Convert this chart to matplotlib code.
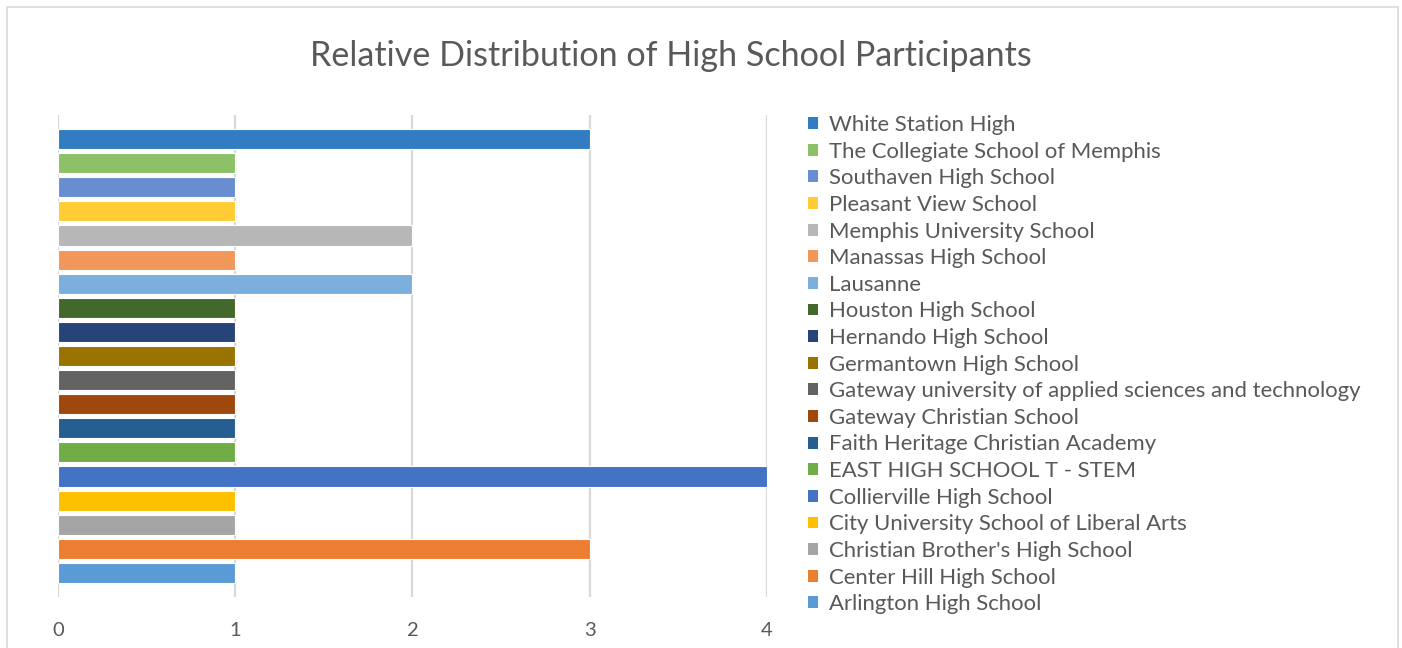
import matplotlib

matplotlib.use("Agg")
import matplotlib.pyplot as plt
from matplotlib.patches import Patch, Rectangle

plt.rcParams["font.family"] = ["Lato", "DejaVu Sans"]

# bottom to top, as in the chart
schools = [
    "Arlington High School",
    "Center Hill High School",
    "Christian Brother's High School",
    "City University School of Liberal Arts",
    "Collierville High School",
    "EAST HIGH SCHOOL T - STEM",
    "Faith Heritage Christian Academy",
    "Gateway Christian School",
    "Gateway university of applied sciences and technology",
    "Germantown High School",
    "Hernando High School",
    "Houston High School",
    "Lausanne",
    "Manassas High School",
    "Memphis University School",
    "Pleasant View School",
    "Southaven High School",
    "The Collegiate School of Memphis",
    "White Station High",
]
participants = [1, 3, 1, 1, 4, 1, 1, 1, 1, 1, 1, 1, 2, 1, 2, 1, 1, 1, 3]
colors = [
    "#5B9BD5", "#ED7D31", "#A5A5A5", "#FFC000", "#4472C4", "#70AD47",
    "#255E91", "#9E480E", "#636363", "#997300", "#264478", "#43682B",
    "#7CAFDD", "#F1975A", "#B7B7B7", "#FFCD33", "#698ED0", "#8CC168",
    "#327DC2",
]
x_ticks = [0, 1, 2, 3, 4]

W, H = 1402, 648
fig = plt.figure(figsize=(W / 100, H / 100), dpi=100)

# chart border
fig.patches.append(Rectangle((7 / W, -0.02), (1398 - 7) / W, (H - 7) / H + 0.02,
                             transform=fig.transFigure, fill=False,
                             edgecolor="#D9D9D9", linewidth=1.2))

ax = fig.add_axes([58 / W, (H - 597) / H, (767 - 58) / W, (597 - 115) / H])
for i, (name, val, col) in enumerate(zip(schools, participants, colors)):
    ax.barh(i, val, height=0.83, color=col, edgecolor="white", linewidth=0.8,
            label=name, zorder=3)

ax.set_xlim(0, 4)
ax.set_ylim(-1, len(schools))
ax.set_xticks(x_ticks)
ax.set_yticks([])
ax.grid(axis="x", color="#D9D9D9", linewidth=1.6, zorder=0)
for s in ax.spines.values():
    s.set_visible(False)
ax.tick_params(axis="x", length=0, pad=18, labelsize=14.5, labelcolor="#595959")

fig.text(0.5 * (310 + 1032) / W, (H - 56) / H,
         "Relative Distribution of High School Participants",
         ha="center", va="center", fontsize=24.6, color="#595959")

handles = [Patch(facecolor=c, edgecolor="none") for c in colors][::-1]
leg = fig.legend(handles, schools[::-1], loc="upper left",
                 bbox_to_anchor=(808 / W, (H - 115) / H), frameon=False,
                 fontsize=15.9, handlelength=0.45, handleheight=0.45,
                 handletextpad=0.5, labelspacing=0.30, borderpad=0,
                 borderaxespad=0)
for t in leg.get_texts():
    t.set_color("#595959")

fig.savefig("out.png", dpi=100)
